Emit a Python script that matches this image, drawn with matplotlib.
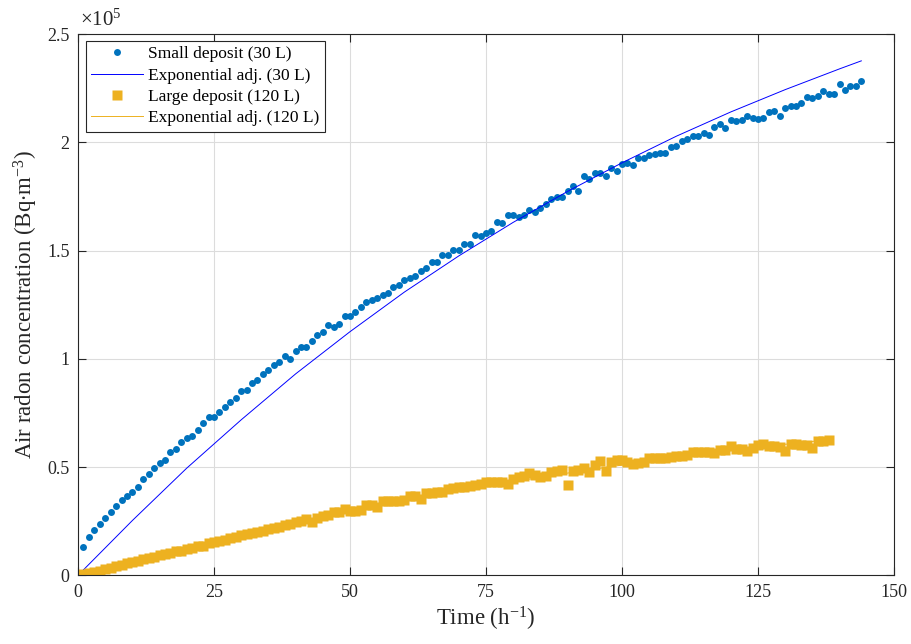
import numpy as np
import matplotlib
matplotlib.use("Agg")
import matplotlib.pyplot as plt
from matplotlib.ticker import FuncFormatter

plt.rcParams['font.family'] = ['Liberation Serif', 'DejaVu Serif']
plt.rcParams['mathtext.fontset'] = 'custom'
plt.rcParams['mathtext.rm'] = 'Liberation Serif'
plt.rcParams['mathtext.it'] = 'Liberation Serif:italic'

# Small deposit (30 L): hourly readings, kBq/m3
small_t = np.arange(1, 145)
small_kbq = [
    13.0, 17.6, 21.1, 23.9, 26.5, 29.2, 31.8, 34.7, 36.7, 38.4,
    41.0, 44.6, 46.6, 49.7, 51.7, 53.1, 56.8, 58.2, 61.6, 63.3,
    64.5, 67.1, 70.2, 73.0, 73.0, 75.3, 77.5, 80.1, 81.8, 85.2,
    85.8, 89.0, 90.4, 92.9, 94.9, 97.2, 98.6, 101.4, 100.1, 103.5,
    105.5, 105.5, 108.0, 110.8, 112.3, 115.7, 114.6, 116.2, 119.7, 119.7,
    121.8, 123.8, 126.4, 127.1, 128.2, 129.5, 130.6, 133.3, 134.1, 136.3,
    137.3, 138.0, 140.6, 141.7, 144.7, 144.7, 148.0, 148.0, 150.1, 150.1,
    153.2, 152.9, 157.2, 156.8, 158.2, 159.1, 163.4, 162.5, 166.3, 166.3,
    165.7, 166.3, 168.8, 167.6, 169.6, 171.6, 173.9, 174.8, 174.7, 177.6,
    179.9, 177.6, 184.5, 183.0, 185.8, 185.8, 184.5, 188.1, 186.9, 190.1,
    190.2, 189.4, 192.9, 192.7, 194.0, 194.7, 195.2, 195.2, 197.7, 198.3,
    200.6, 201.5, 202.9, 202.8, 204.2, 203.4, 207.2, 208.3, 206.8, 210.5,
    209.7, 210.5, 212.0, 211.4, 210.6, 211.3, 214.0, 214.5, 212.2, 216.0,
    216.8, 216.7, 218.2, 220.8, 220.5, 221.4, 223.9, 222.5, 222.5, 227.0,
    224.2, 226.2, 226.2, 228.1,
]

# Large deposit (120 L): hourly readings, kBq/m3
large_t = np.arange(1, 139)
large_kbq = [
    0.4, 0.9, 1.5, 2.2, 3.0, 3.4, 4.1, 4.8, 5.6,
    6.2, 6.6, 7.4, 8.0, 8.3, 9.2, 9.6, 10.5, 11.2, 11.4,
    12.3, 12.6, 13.4, 13.6, 14.9, 15.4, 15.8, 16.5, 17.2, 17.6,
    18.6, 18.9, 19.7, 20.2, 20.6, 21.4, 21.9, 22.5, 23.3, 23.5,
    24.4, 25.0, 25.9, 24.5, 26.6, 27.5, 28.0, 29.0, 29.4, 30.5,
    29.8, 29.9, 30.2, 32.5, 32.4, 31.5, 34.1, 34.1, 34.4, 34.5,
    34.9, 36.7, 36.4, 35.3, 38.0, 38.0, 38.3, 38.6, 39.8, 40.1,
    40.9, 41.0, 41.2, 41.5, 42.3, 42.9, 43.2, 43.3, 43.3, 42.3,
    44.7, 45.4, 46.0, 47.2, 46.3, 45.4, 46.0, 47.8, 48.3, 48.8,
    41.5, 48.3, 48.8, 49.7, 47.5, 50.9, 52.6, 48.0, 52.1, 53.4,
    53.1, 52.3, 51.4, 51.9, 52.5, 54.0, 54.2, 54.0, 54.3, 54.6,
    55.2, 54.9, 55.7, 56.9, 56.8, 56.8, 56.9, 56.5, 58.0, 58.0,
    59.5, 58.5, 58.3, 57.5, 58.6, 60.2, 60.5, 59.7, 59.7, 59.3,
    57.5, 60.5, 60.8, 60.3, 60.2, 58.9, 61.9, 61.9, 62.3,
]

# exponential fits
fit30_t = [1, 10, 20, 30, 40, 50, 60, 70, 80, 90, 100, 110, 120, 130, 140, 144]
fit30_kbq = [2.5, 25.3, 49.5, 71.8, 93.0, 112.5, 130.8, 147.5, 163.0, 177.3,
             190.5, 202.8, 214.0, 224.3, 233.9, 237.6]
fit120_t = [1, 10, 20, 30, 40, 50, 60, 70, 80, 90, 100, 110, 120, 130, 138]
fit120_kbq = [0.5, 6.3, 12.4, 18.3, 24.0, 29.2, 34.2, 38.8, 43.2, 47.2,
              50.9, 54.4, 57.6, 60.5, 62.6]

small = np.array(small_kbq) * 1e3
large = np.array(large_kbq) * 1e3
fit30 = np.array(fit30_kbq) * 1e3
fit120 = np.array(fit120_kbq) * 1e3

fig = plt.figure(figsize=(9.11, 6.44), dpi=100)
ax = fig.add_axes([0.0856, 0.1067, 0.8957, 0.8405])

ax.plot(small_t, small, 'o', color='#0072BD', ms=5, mec='none', label='Small deposit (30 L)')
ax.plot(fit30_t, fit30, '-', color='#0000FF', lw=0.7, label='Exponential adj. (30 L)')
ax.plot(large_t, large, 's', color='#EDB120', ms=7.5, mec='none', label='Large deposit (120 L)')
ax.plot(fit120_t, fit120, '-', color='#EDB120', lw=0.7, label='Exponential adj. (120 L)')

ax.set_xlim(0, 150)
ax.set_ylim(0, 2.5e5)
ax.set_xticks([0, 25, 50, 75, 100, 125, 150])
ax.set_yticks([0, 0.5e5, 1e5, 1.5e5, 2e5, 2.5e5])
ax.yaxis.set_major_formatter(FuncFormatter(lambda v, p: f"{v/1e5:g}"))
ax.text(0.002, 1.006, r'$\times10^{5}$', transform=ax.transAxes, ha='left', va='bottom',
        fontsize=15, color='#262626')

ax.grid(True, color='#dcdcdc', lw=0.8)
ax.set_axisbelow(True)
ax.tick_params(direction='in', length=6, width=0.8, top=True, right=True,
               labelsize=13, colors='#262626', pad=6)
for s in ax.spines.values():
    s.set_color('#262626')
    s.set_linewidth(0.8)

ax.set_xlabel(r'Time (h$^{-1}$)', fontsize=16.5, color='#262626', labelpad=3)
ax.set_ylabel(r'Air radon concentration (Bq$\cdot$m$^{-3}$)', fontsize=16.5,
              color='#262626', labelpad=5)

leg = ax.legend(loc='upper left', bbox_to_anchor=(0.0098, 0.987), borderaxespad=0,
                fontsize=12.5, frameon=True, fancybox=False, framealpha=1,
                edgecolor='#262626', handlelength=3.0, labelspacing=0.3,
                handletextpad=0.3, borderpad=0.3)
leg.get_frame().set_linewidth(0.8)

fig.savefig('out.png', dpi=100)
